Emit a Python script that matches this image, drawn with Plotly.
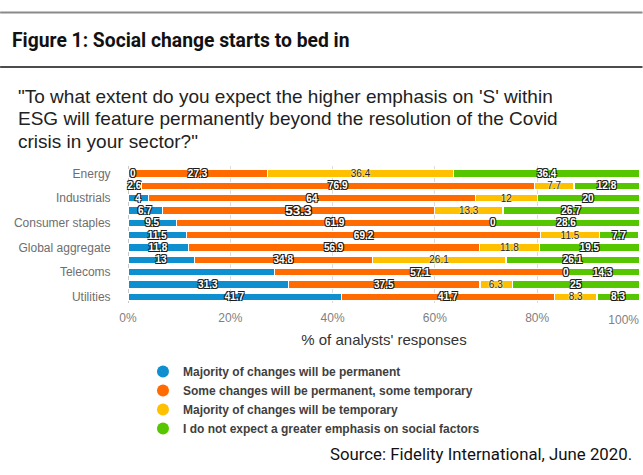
import plotly.graph_objects as go

# Survey responses by sector (% of analysts), sorted by the "permanent" share
sectors = [
    "Energy", "Materials", "Industrials", "Financials", "Consumer staples",
    "Health care", "Global aggregate", "Information technology", "Telecoms",
    "Real estate", "Utilities",
]
shown_labels = ["Energy", "Industrials", "Consumer staples", "Global aggregate",
                "Telecoms", "Utilities"]

majority_permanent = [0, 2.6, 4, 6.7, 9.5, 11.5, 11.8, 13, 28.6, 31.3, 41.7]
some_permanent = [27.3, 76.9, 64, 53.3, 61.9, 69.2, 56.9, 34.8, 57.1, 37.5, 41.7]
majority_temporary = [36.4, 7.7, 12, 13.3, 0, 11.5, 11.8, 26.1, 0, 6.3, 8.3]
no_emphasis = [36.4, 12.8, 20, 26.7, 28.6, 7.7, 19.5, 26.1, 14.3, 25, 8.3]

series_names = [
    "Majority of changes will be permanent",
    "Some changes will be permanent, some temporary",
    "Majority of changes will be temporary",
    "I do not expect a greater emphasis on social factors",
]
series_values = [majority_permanent, some_permanent, majority_temporary, no_emphasis]
colors = ["#0E8FD0", "#FF6B00", "#FFC000", "#55C600"]

x_ticks = [0, 20, 40, 60, 80, 100]
x_range = [0, 100.1]

# Canvas geometry (pixels)
W_PX, H_PX = 643, 475
L, R, T, B = 128, 2.5, 166, 172
PW = W_PX - L - R
PH = H_PX - T - B


def px_x(p):
    return (p - L) / PW


def px_y(p):
    return (H_PX - B - p) / PH


def fmt(v):
    return f"{v:g}"


OUTLINE = ("-1px -1px 0 #1a1a1a, 1px -1px 0 #1a1a1a, -1px 1px 0 #1a1a1a, "
           "1px 1px 0 #1a1a1a")
HALO = "0 0 2px #ffffff, 0 0 1px #ffffff"
LABEL_FONT = dict(family="Arial", size=10, color="#ffffff", weight="bold",
                  shadow=OUTLINE)

fig = go.Figure()

for i, (name, vals, col) in enumerate(zip(series_names, series_values, colors)):
    texts = [fmt(v) if v > 0 else "" for v in vals]
    sizes = [10] * len(vals)
    if i == 0:
        texts[sectors.index("Telecoms")] = ""
    if i == 1:
        sizes[sectors.index("Financials")] = 13.5
    if i == 2:
        tfont = dict(family="Arial", size=sizes, color="#222222", shadow=HALO)
    else:
        tfont = dict(LABEL_FONT, size=sizes)
    fig.add_trace(go.Bar(
        y=sectors, x=vals, orientation="h", name=name,
        marker=dict(color=col, line=dict(color="#ffffff", width=1.2)),
        text=texts, textposition="inside", insidetextanchor="middle",
        textangle=0, constraintext="none", textfont=tfont,
        showlegend=False, hoverinfo="skip", cliponaxis=False,
    ))

# Zero-width segments still carry a "0" label at their stacked position
for s, vals in enumerate(series_values):
    for r, v in enumerate(vals):
        if v == 0:
            start = sum(series_values[k][r] for k in range(s))
            fig.add_annotation(
                x=start, y=sectors[r], xref="x", yref="y", text=fmt(v),
                showarrow=False, xanchor="left" if start == 0 else "center",
                yanchor="middle", font=LABEL_FONT,
            )

# Legend entries with round markers
for name, col in zip(series_names, colors):
    fig.add_trace(go.Scatter(
        x=[None], y=[None], mode="markers", name=name,
        marker=dict(symbol="circle", size=11, color=col),
    ))

# Empty trace that keeps the overlaid x axis (right-edge tick label) alive
fig.add_trace(go.Scatter(x=[None], y=[None], xaxis="x2", yaxis="y",
                         showlegend=False, hoverinfo="skip"))

# Last tick label sits flush with the right edge of the plot
tick_text = [f"{t}%" for t in x_ticks[:-1]] + [""]

fig.update_layout(
    width=W_PX, height=H_PX,
    margin=dict(l=L, r=R, t=T, b=B, pad=0),
    barmode="stack", bargap=0.4,
    plot_bgcolor="#ffffff", paper_bgcolor="#ffffff",
    font=dict(family="Arial", color="#333333"),
    xaxis=dict(
        range=x_range, tickvals=x_ticks, ticktext=tick_text,
        showgrid=True, gridcolor="#dcdcdc", gridwidth=1,
        zeroline=True, zerolinecolor="#c8c8c8", zerolinewidth=1,
        tickfont=dict(size=12, color="#808080"),
        ticks="outside", ticklen=4, tickcolor="rgba(0,0,0,0)",
        title=dict(text="% of analysts' responses",
                   font=dict(size=15, color="#333333"), standoff=10),
        fixedrange=True,
    ),
    xaxis2=dict(
        overlaying="x", anchor="y", side="bottom", range=x_range,
        tickvals=[x_ticks[-1]], ticktext=[f"{x_ticks[-1]}%"],
        ticklabelposition="outside left", ticklabelstandoff=6,
        showgrid=False, zeroline=False, showline=False,
        tickfont=dict(size=12, color="#808080"),
        ticks="outside", ticklen=4, tickcolor="rgba(0,0,0,0)",
        fixedrange=True,
    ),
    yaxis=dict(
        categoryorder="array", categoryarray=sectors,
        autorange="reversed", tickvals=shown_labels,
        tickfont=dict(size=12, color="#6e6e6e"),
        ticks="outside", ticklen=14, tickcolor="rgba(0,0,0,0)",
        showgrid=False, fixedrange=True,
    ),
    legend=dict(
        x=px_x(143), y=px_y(357), xanchor="left", yanchor="top",
        font=dict(size=12, color="#404040", family="Arial", weight="bold"),
        tracegroupgap=0, traceorder="normal", itemsizing="constant",
        bgcolor="rgba(0,0,0,0)",
    ),
    showlegend=True,
)

# Header rules
fig.add_shape(type="line", xref="paper", yref="paper",
              x0=px_x(0), x1=px_x(W_PX), y0=px_y(12.5), y1=px_y(12.5),
              line=dict(color="#8a8a8a", width=2))
fig.add_shape(type="line", xref="paper", yref="paper",
              x0=px_x(0), x1=px_x(W_PX), y0=px_y(67), y1=px_y(67),
              line=dict(color="#111111", width=1.5))

fig.add_annotation(
    text="<b>Figure 1: Social change starts to bed in</b>",
    xref="paper", yref="paper", x=px_x(10), y=px_y(40),
    xanchor="left", yanchor="middle", showarrow=False,
    font=dict(family="Roboto", size=19.3, color="#111111"),
)

question_lines = [
    "\"To what extent do you expect the higher emphasis on 'S' within",
    "ESG will feature permanently beyond the resolution of the Covid",
    "crisis in your sector?\"",
]
for k, line in enumerate(question_lines):
    fig.add_annotation(
        text=line, xref="paper", yref="paper",
        x=px_x(15.5), y=px_y(96 + 22.8 * k),
        xanchor="left", yanchor="middle", showarrow=False,
        font=dict(family="Arial", size=19, color="#222222"),
    )

fig.add_annotation(
    text="Source: Fidelity International, June 2020.",
    xref="paper", yref="paper", x=px_x(634), y=px_y(454),
    xanchor="right", yanchor="middle", showarrow=False,
    font=dict(family="Roboto", size=16.8, color="#111111"),
)

fig.write_html("out.html")
